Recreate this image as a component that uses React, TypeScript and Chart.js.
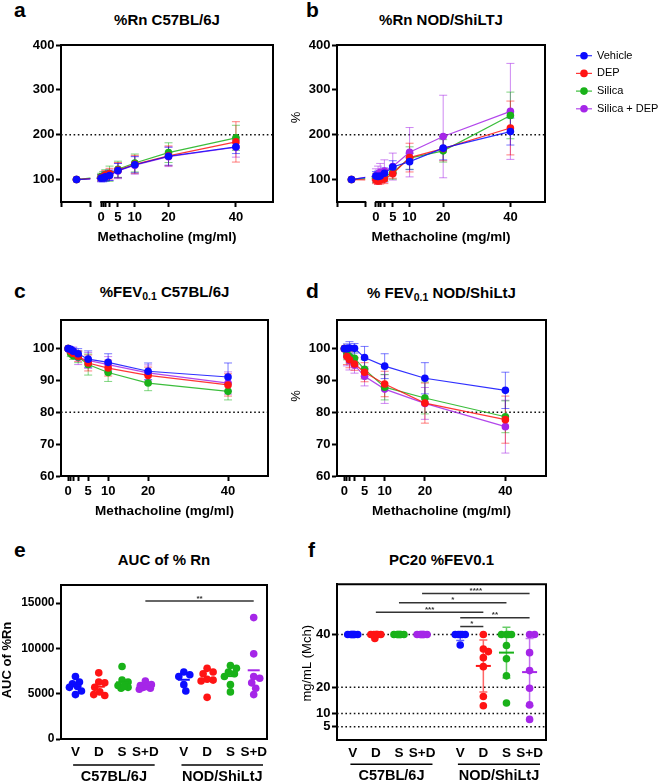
import React, { useEffect, useRef } from 'react';
import { Chart, registerables } from 'chart.js';

Chart.register(...registerables);

const FONT = 'Arial, "Liberation Sans", Helvetica, sans-serif';

// ---------- series ----------
const SERIES = ['Vehicle', 'DEP', 'Silica', 'Silica + DEP'];
const COLORS = ['#0b0bff', '#ff1414', '#19b219', '#a526e8'];

// ---------- methacholine challenge ----------
const DOSES = [0, 0.625, 1.25, 2.5, 5, 10, 20, 40];
const DOSE_LABELS = [0, 5, 10, 20, 40];
const BASELINE_POS = -7.3; // pre-dose baseline sits left of the axis break

// a: %Rn C57BL/6J (baseline, then each dose)
const rnC57Vehicle = [100, 103, 104, 106, 109, 120, 133, 152, 173];
const rnC57DEP = [100, 104, 106, 110, 113, 121, 134, 153, 184];
const rnC57Silica = [100, 106, 108, 110, 113, 123, 137, 160, 193];
const rnC57SilicaDEP = [100, 103, 105, 108, 110, 119, 132, 151, 172];
const rnC57VehicleSD = [0, 8, 9, 10, 11, 16, 18, 20, 15];
const rnC57DEPSD = [0, 7, 8, 10, 12, 17, 20, 22, 45];
const rnC57SilicaSD = [0, 8, 10, 12, 17, 18, 20, 22, 28];
const rnC57SilicaDEPSD = [0, 7, 9, 10, 12, 17, 20, 22, 22];

// b: %Rn NOD/ShiLTJ
const rnNODVehicle = [100, 108, 107, 108, 114, 128, 140, 170, 207];
const rnNODDEP = [100, 99, 97, 99, 101, 113, 149, 169, 215];
const rnNODSilica = [100, 104, 102, 103, 106, 116, 148, 164, 243];
const rnNODSilicaDEP = [100, 109, 110, 116, 119, 129, 161, 196, 252];
const rnNODVehicleSD = [0, 10, 12, 12, 12, 14, 18, 26, 30];
const rnNODDEPSD = [0, 8, 8, 9, 10, 10, 32, 27, 60];
const rnNODSilicaSD = [0, 10, 9, 9, 10, 15, 25, 25, 52];
const rnNODSilicaDEPSD = [0, 15, 20, 20, 25, 30, 55, 92, 107];

// c: %FEV0.1 C57BL/6J
const fevC57Vehicle = [100, 99.8, 99.2, 98.4, 96.7, 95.7, 92.9, 91.1];
const fevC57DEP = [100, 99.2, 98.5, 97.6, 95.5, 93.9, 91.6, 88.6];
const fevC57Silica = [100, 98.5, 97.8, 97.4, 95.0, 92.5, 89.2, 86.6];
const fevC57SilicaDEP = [100, 99.6, 99.0, 97.2, 96.3, 95.0, 92.4, 89.2];
const fevC57VehicleSD = [0, 0.6, 1, 1.6, 2.6, 2.7, 2.6, 4.4];
const fevC57DEPSD = [0, 0.8, 1.2, 1.6, 2.5, 2.5, 2.6, 3.5];
const fevC57SilicaSD = [0, 1, 1.2, 1.8, 3.3, 2.8, 2.4, 2.7];
const fevC57SilicaDEPSD = [0, 0.8, 1.5, 2.2, 2.5, 2.5, 2.5, 3.5];

// d: %FEV0.1 NOD/ShiLtJ
const fevNODVehicle = [100, 100, 100.2, 100.1, 97.2, 94.5, 90.7, 86.9];
const fevNODDEP = [100, 97.5, 96.5, 95.2, 92.6, 88.9, 82.9, 77.7];
const fevNODSilica = [100, 98.5, 97.5, 97.0, 93.5, 87.9, 84.5, 78.6];
const fevNODSilicaDEP = [100, 97.6, 96.3, 94.8, 91.3, 87.3, 82.8, 75.5];
const fevNODVehicleSD = [0, 1.5, 2, 1.5, 3.5, 3.9, 4.9, 5.7];
const fevNODDEPSD = [0, 2.5, 2.5, 2, 3, 4, 6.3, 7.4];
const fevNODSilicaSD = [0, 2, 2, 2, 3, 4, 5, 5];
const fevNODSilicaDEPSD = [0, 3, 3, 2.5, 3, 4.5, 5, 8.3];

// ---------- group scatter panels ----------
const TREATMENT_LABELS = ['V', 'D', 'S', 'S+D'];
const STRAINS = ['C57BL/6J', 'NOD/ShiLtJ'];
const GROUP_GAP = 4.65; // second strain block starts here on the category axis

// e: AUC of %Rn
const aucC57Vehicle = [6900, 6300, 6100, 5800, 5300, 4900, 5700];
const aucC57DEP = [7300, 6300, 6200, 5700, 4900, 4800, 5200];
const aucC57Silica = [8000, 6500, 6300, 5900, 5700, 5600, 5800];
const aucC57SilicaDEP = [6400, 6000, 5900, 5700, 5600, 5500, 5800];
const aucNODVehicle = [7400, 7100, 6900, 6000, 5300];
const aucNODDEP = [7800, 7400, 7200, 6600, 6500, 6400, 4600];
const aucNODSilica = [8100, 7800, 7400, 7200, 6900, 6000, 5200];
const aucNODSilicaDEP = [13400, 9400, 6900, 6700, 6200, 5600, 4900];
const aucTicks = [0, 5000, 10000, 15000];
const aucSigFrom = [3];
const aucSigTo = [7];
const aucSigY = [15230];
const aucSigText = ['**'];

// f: PC20 %FEV0.1
const pc20C57Vehicle = [40, 40, 40, 40, 40, 40, 40];
const pc20C57DEP = [40, 40, 40, 40, 40, 40, 38.5];
const pc20C57Silica = [40, 40, 40, 40, 40, 40, 40];
const pc20C57SilicaDEP = [40, 40, 40, 40, 40, 40, 40];
const pc20NODVehicle = [40, 40, 40, 40, 40, 36];
const pc20NODDEP = [40, 34.5, 33.5, 31.2, 27.8, 16.5, 13];
const pc20NODSilica = [40, 40, 40, 40, 35.8, 30.8, 24.3, 14];
const pc20NODSilicaDEP = [40, 40, 33.1, 26.3, 19.6, 13.3, 7.8];
const pc20SigFrom = [3, 2, 1, 4, 4];
const pc20SigTo = [7, 6, 5, 7, 5];
const pc20SigY = [55.5, 52, 48.4, 46.3, 43];
const pc20SigText = ['****', '*', '***', '**', '*'];
const pc20Ticks = [5, 10, 20, 40];

// ---------- helpers ----------
function rgba(hex: string, a: number) {
  const n = parseInt(hex.slice(1), 16);
  return `rgba(${(n >> 16) & 255},${(n >> 8) & 255},${n & 255},${a})`;
}
const catPos = (strain: number, t: number) => strain * GROUP_GAP + t;

type Frame = { rect: { x: number; y: number; w: number; h: number }; yW: number; padTop: number; padRight: number; xH: number };

const FRAME_A: Frame = { rect: { x: 0, y: 30, w: 290, h: 215 }, yW: 61, padTop: 15, padRight: 17, xH: 43 };
const FRAME_B: Frame = { rect: { x: 290, y: 30, w: 371, h: 215 }, yW: 47, padTop: 15, padRight: 116, xH: 43 };
const FRAME_C: Frame = { rect: { x: 0, y: 305, w: 290, h: 215 }, yW: 61, padTop: 15, padRight: 22, xH: 44 };
const FRAME_D: Frame = { rect: { x: 290, y: 305, w: 371, h: 215 }, yW: 47, padTop: 15, padRight: 115, xH: 44 };
const FRAME_E: Frame = { rect: { x: 0, y: 575, w: 290, h: 208 }, yW: 61, padTop: 10, padRight: 23, xH: 44 };
const FRAME_F: Frame = { rect: { x: 290, y: 575, w: 371, h: 208 }, yW: 47, padTop: 9, padRight: 115, xH: 43 };

type Decor = {
  refLines?: number[];
  broken?: { from: number; to: number; clipFrom: number; clipTo: number };
  xTitle?: { text: string; dy: number };
  yTitle?: { text: string; dx: number; dy: number; bold: boolean };
  legend?: boolean;
  errorBars?: boolean;
  stats?: { meanHalf: number; sd: boolean };
  sig?: { from: number[]; to: number[]; y: number[]; text: string[] };
  groups?: { underlineDy: number; labelDy: number; from: number; to: number };
};

function meanSd(v: number[]) {
  const m = v.reduce((s, x) => s + x, 0) / v.length;
  const sd = v.length > 1 ? Math.sqrt(v.reduce((s, x) => s + (x - m) ** 2, 0) / (v.length - 1)) : 0;
  return { m, sd };
}

function makeDecor(cfg: Decor) {
  return {
    id: 'decor',
    beforeDatasetsDraw(chart: any) {
      const { ctx, chartArea: a, scales } = chart;
      const ys = scales.y;
      ctx.save();
      (cfg.refLines || []).forEach((v) => {
        const y = ys.getPixelForValue(v);
        ctx.beginPath();
        ctx.setLineDash([1.6, 2.6]);
        ctx.lineWidth = 1.5;
        ctx.strokeStyle = '#111';
        ctx.moveTo(a.left, y);
        ctx.lineTo(a.right, y);
        ctx.stroke();
      });
      ctx.setLineDash([]);
      if (cfg.errorBars) {
        for (let i = chart.data.datasets.length - 1; i >= 0; i--) {
          const ds = chart.data.datasets[i];
          const meta = chart.getDatasetMeta(i);
          ctx.strokeStyle = rgba(ds.color, 0.55);
          ctx.lineWidth = 1;
          ds.data.forEach((p: any, j: number) => {
            const sd = ds.sd[j];
            if (!sd) return;
            const x = meta.data[j].x;
            const y1 = ys.getPixelForValue(p.y + sd);
            const y2 = ys.getPixelForValue(p.y - sd);
            ctx.beginPath();
            ctx.moveTo(x, y1); ctx.lineTo(x, y2);
            ctx.moveTo(x - 4, y1); ctx.lineTo(x + 4, y1);
            ctx.moveTo(x - 4, y2); ctx.lineTo(x + 4, y2);
            ctx.stroke();
          });
        }
      }
      if (cfg.stats && cfg.stats.sd) {
        const xs = scales.x;
        chart.data.datasets.forEach((ds: any) => {
          const { m, sd } = meanSd(ds.values);
          if (sd < 0.5) return;
          const x = xs.getPixelForValue(ds.baseX);
          const y1 = ys.getPixelForValue(m + sd);
          const y2 = ys.getPixelForValue(m - sd);
          ctx.strokeStyle = rgba(ds.color, 0.65);
          ctx.lineWidth = 1.5;
          ctx.beginPath();
          ctx.moveTo(x, y1); ctx.lineTo(x, y2);
          ctx.moveTo(x - 4, y1); ctx.lineTo(x + 4, y1);
          ctx.moveTo(x - 4, y2); ctx.lineTo(x + 4, y2);
          ctx.stroke();
        });
      }
      ctx.restore();
    },
    beforeDatasetDraw(chart: any) {
      if (!cfg.broken) return;
      const { ctx, scales } = chart;
      const g0 = scales.x.getPixelForValue(cfg.broken.clipFrom);
      const g1 = scales.x.getPixelForValue(cfg.broken.clipTo);
      ctx.save();
      ctx.beginPath();
      ctx.rect(0, 0, g0, chart.height);
      ctx.rect(g1, 0, chart.width - g1, chart.height);
      ctx.clip();
    },
    afterDatasetDraw(chart: any) {
      if (cfg.broken) chart.ctx.restore();
    },
    afterDatasetsDraw(chart: any) {
      if (!cfg.stats) return;
      const { ctx, scales } = chart;
      ctx.save();
      chart.data.datasets.forEach((ds: any) => {
        const { m } = meanSd(ds.values);
        const x = scales.x.getPixelForValue(ds.baseX);
        const y = scales.y.getPixelForValue(m);
        ctx.strokeStyle = ds.color;
        ctx.lineWidth = 2;
        ctx.beginPath();
        ctx.moveTo(x - cfg.stats!.meanHalf, y);
        ctx.lineTo(x + cfg.stats!.meanHalf, y);
        ctx.stroke();
      });
      ctx.restore();
    },
    afterDraw(chart: any) {
      const { ctx, chartArea: a, scales } = chart;
      const xs = scales.x, ys = scales.y;
      ctx.save();
      ctx.strokeStyle = '#000';
      ctx.lineWidth = 2;
      ctx.lineCap = 'butt';
      // box frame (top & right)
      ctx.beginPath();
      ctx.moveTo(a.left - 1, a.top);
      ctx.lineTo(a.right, a.top);
      ctx.moveTo(a.right, a.top - 1);
      ctx.lineTo(a.right, a.bottom + 1);
      ctx.stroke();
      if (cfg.broken) {
        const p0 = xs.getPixelForValue(cfg.broken.from);
        const p1 = xs.getPixelForValue(cfg.broken.to);
        ctx.beginPath();
        ctx.moveTo(a.left - 1, a.bottom);
        ctx.lineTo(p0 + 1, a.bottom);
        ctx.moveTo(p1, a.bottom);
        ctx.lineTo(a.right + 1, a.bottom);
        ctx.stroke();
      }
      ctx.fillStyle = '#000';
      ctx.textBaseline = 'middle';
      ctx.textAlign = 'center';
      if (cfg.xTitle) {
        ctx.font = `bold 13.5px ${FONT}`;
        ctx.fillText(cfg.xTitle.text, (a.left + a.right) / 2, a.bottom + cfg.xTitle.dy);
      }
      if (cfg.yTitle) {
        ctx.save();
        ctx.translate(a.left + cfg.yTitle.dx, a.top + cfg.yTitle.dy);
        ctx.rotate(-Math.PI / 2);
        ctx.font = `${cfg.yTitle.bold ? 'bold ' : ''}13px ${FONT}`;
        ctx.fillText(cfg.yTitle.text, 0, 0);
        ctx.restore();
      }
      if (cfg.legend) {
        SERIES.forEach((s, i) => {
          const y = a.top + 10.7 + i * 17.7;
          const x0 = a.right + 31;
          ctx.strokeStyle = rgba(COLORS[i], 0.85);
          ctx.lineWidth = 1.2;
          ctx.beginPath();
          ctx.moveTo(x0, y);
          ctx.lineTo(x0 + 16, y);
          ctx.stroke();
          ctx.fillStyle = COLORS[i];
          ctx.beginPath();
          ctx.arc(x0 + 8, y, 3.8, 0, Math.PI * 2);
          ctx.fill();
          ctx.fillStyle = '#000';
          ctx.font = `11px ${FONT}`;
          ctx.textAlign = 'left';
          ctx.fillText(s, x0 + 21, y);
        });
        ctx.textAlign = 'center';
      }
      if (cfg.sig) {
        const sg = cfg.sig;
        sg.from.forEach((f, i) => {
          const strainF = f >= 4 ? 1 : 0, strainT = sg.to[i] >= 4 ? 1 : 0;
          const x1 = xs.getPixelForValue(catPos(strainF, f % 4));
          const x2 = xs.getPixelForValue(catPos(strainT, sg.to[i] % 4));
          const y = ys.getPixelForValue(sg.y[i]);
          ctx.strokeStyle = '#333';
          ctx.lineWidth = 1.5;
          ctx.beginPath();
          ctx.moveTo(x1, y);
          ctx.lineTo(x2, y);
          ctx.stroke();
          ctx.fillStyle = '#333';
          ctx.font = `bold 8px ${FONT}`;
          ctx.textBaseline = 'alphabetic';
          ctx.fillText(sg.text[i], (x1 + x2) / 2, y - 0.5);
        });
        ctx.textBaseline = 'middle';
      }
      if (cfg.groups) {
        const g = cfg.groups;
        STRAINS.forEach((s, si) => {
          const x1 = xs.getPixelForValue(catPos(si, 0) + g.from);
          const x2 = xs.getPixelForValue(catPos(si, 3) + g.to);
          ctx.strokeStyle = '#000';
          ctx.lineWidth = 1.5;
          ctx.beginPath();
          ctx.moveTo(x1, a.bottom + g.underlineDy);
          ctx.lineTo(x2, a.bottom + g.underlineDy);
          ctx.stroke();
          ctx.fillStyle = '#000';
          ctx.font = `bold 14.5px ${FONT}`;
          ctx.fillText(s, (x1 + x2) / 2, a.bottom + g.labelDy);
        });
      }
      ctx.restore();
    },
  };
}

function tickGrid() {
  return { display: true, drawOnChartArea: false, drawTicks: true, tickLength: 5, tickWidth: 2, tickColor: '#000' };
}

function yScale(fr: Frame, min: number, max: number, ticks: number[], size = 13) {
  return {
    type: 'linear',
    min,
    max,
    afterBuildTicks: (s: any) => { s.ticks = ticks.map((v) => ({ value: v })); },
    afterFit: (s: any) => { s.width = fr.yW; },
    ticks: {
      font: { family: FONT, size, weight: 'bold' },
      color: '#000',
      padding: 1.5,
      autoSkip: false,
      callback: (v: number) => String(v),
    },
    grid: tickGrid(),
    border: { display: true, color: '#000', width: 2 },
  };
}

function baseOptions(fr: Frame, x: any, y: any) {
  return {
    responsive: false,
    animation: false,
    events: [],
    layout: { padding: { top: fr.padTop, right: fr.padRight, left: 0, bottom: 0 } },
    plugins: { legend: { display: false }, tooltip: { enabled: false }, title: { display: false } },
    scales: { x, y },
  };
}

function lineChart(
  canvas: HTMLCanvasElement,
  fr: Frame,
  series: number[][],
  sds: number[][],
  withBaseline: boolean,
  xMin: number,
  xMax: number,
  yMin: number,
  yMax: number,
  yTicks: number[],
  decor: Decor,
) {
  const xs = withBaseline ? [BASELINE_POS, ...DOSES] : DOSES;
  const datasets = series.map((vals, i) => ({
    label: SERIES[i],
    data: vals.map((v, j) => ({ x: xs[j], y: v })),
    sd: sds[i],
    color: COLORS[i],
    borderColor: rgba(COLORS[i], 0.85),
    backgroundColor: COLORS[i],
    pointBackgroundColor: COLORS[i],
    pointBorderWidth: 0,
    pointRadius: 3.8,
    pointHoverRadius: 3.8,
    borderWidth: 1.2,
    tension: 0,
    showLine: true,
    fill: false,
  }));
  const xTicks = withBaseline && decor.broken ? [xMin, decor.broken.from, ...DOSES] : DOSES;
  const x = {
    type: 'linear',
    min: xMin,
    max: xMax,
    afterBuildTicks: (s: any) => { s.ticks = xTicks.map((v) => ({ value: v })); },
    afterFit: (s: any) => { s.height = fr.xH; },
    ticks: {
      font: { family: FONT, size: 13, weight: 'bold' },
      color: '#000',
      padding: 3,
      autoSkip: false,
      maxRotation: 0,
      callback: (v: number) => (DOSE_LABELS.includes(v) ? String(v) : ''),
    },
    grid: tickGrid(),
    border: { display: !withBaseline, color: '#000', width: 2 },
  };
  const y = yScale(fr, yMin, yMax, yTicks);
  return new Chart(canvas, {
    type: 'line',
    data: { datasets } as any,
    options: baseOptions(fr, x, y) as any,
    plugins: [makeDecor(decor) as any],
  });
}

function swarm(chart: any, minDist: number, maxW: number) {
  const xs = chart.scales.x, ys = chart.scales.y;
  const pxPerUnit = xs.getPixelForValue(1) - xs.getPixelForValue(0);
  chart.data.datasets.forEach((ds: any) => {
    const vals: number[] = ds.values;
    const order = vals.map((_, i) => i).sort((p, q) => vals[q] - vals[p]);
    const placed: { dx: number; py: number }[] = [];
    const dxs = vals.map(() => 0);
    order.forEach((i) => {
      const py = ys.getPixelForValue(vals[i]);
      let best = 0;
      let bestScore = -1;
      for (let k = 0; k <= 2 * maxW; k++) {
        const dx = (k % 2 === 1 ? 1 : -1) * Math.ceil(k / 2);
        let md = Infinity;
        for (const p of placed) md = Math.min(md, Math.hypot(dx - p.dx, py - p.py));
        if (md >= minDist) { best = dx; break; }
        if (md > bestScore + 1e-6) { bestScore = md; best = dx; }
      }
      placed.push({ dx: best, py });
      dxs[i] = best;
    });
    ds.data = vals.map((v, i) => ({ x: ds.baseX + dxs[i] / pxPerUnit, y: v }));
  });
  chart.update('none');
}

function groupChart(
  canvas: HTMLCanvasElement,
  fr: Frame,
  groups: number[][],
  xMin: number,
  xMax: number,
  yMin: number,
  yMax: number,
  yTicks: number[],
  yTickSize: number,
  decor: Decor,
  swarmDist: number,
  swarmW: number,
) {
  const catTicks: number[] = [];
  const catLabels: string[] = [];
  STRAINS.forEach((_, s) => TREATMENT_LABELS.forEach((l, t) => { catTicks.push(catPos(s, t)); catLabels.push(l); }));
  const datasets = groups.map((vals, g) => {
    const s = Math.floor(g / 4), t = g % 4;
    const baseX = catPos(s, t);
    return {
      label: `${STRAINS[s]} ${TREATMENT_LABELS[t]}`,
      values: vals,
      baseX,
      color: COLORS[t],
      data: vals.map((v) => ({ x: baseX, y: v })),
      pointBackgroundColor: COLORS[t],
      backgroundColor: COLORS[t],
      pointBorderWidth: 0,
      pointRadius: 3.8,
      pointHoverRadius: 3.8,
      showLine: false,
    };
  });
  const x = {
    type: 'linear',
    min: xMin,
    max: xMax,
    afterBuildTicks: (s: any) => { s.ticks = catTicks.map((v) => ({ value: v })); },
    afterFit: (s: any) => { s.height = fr.xH; },
    ticks: {
      font: { family: FONT, size: 13.5, weight: 'bold' },
      color: '#000',
      padding: 5,
      autoSkip: false,
      maxRotation: 0,
      callback: (_v: number, i: number) => catLabels[i],
    },
    grid: { display: false, drawTicks: false },
    border: { display: true, color: '#000', width: 2 },
  };
  const y = yScale(fr, yMin, yMax, yTicks, yTickSize);
  const chart = new Chart(canvas, {
    type: 'scatter',
    data: { datasets } as any,
    options: baseOptions(fr, x, y) as any,
    plugins: [makeDecor(decor) as any],
  });
  swarm(chart, swarmDist, swarmW);
  return chart;
}

// ---------- chart builders ----------
const BUILDERS: { frame: Frame; build: (c: HTMLCanvasElement) => Chart }[] = [
  {
    frame: FRAME_A,
    build: (c) =>
      lineChart(
        c, FRAME_A,
        [rnC57Vehicle, rnC57DEP, rnC57Silica, rnC57SilicaDEP],
        [rnC57VehicleSD, rnC57DEPSD, rnC57SilicaSD, rnC57SilicaDEPSD],
        true, -11.9, 51, 50, 400, [100, 200, 300, 400],
        {
          refLines: [200],
          broken: { from: -3.2, to: -0.25, clipFrom: -3.2, clipTo: -1.3 },
          xTitle: { text: 'Methacholine (mg/ml)', dy: 35.5 },
          errorBars: true,
        },
      ),
  },
  {
    frame: FRAME_B,
    build: (c) =>
      lineChart(
        c, FRAME_B,
        [rnNODVehicle, rnNODDEP, rnNODSilica, rnNODSilicaDEP],
        [rnNODVehicleSD, rnNODDEPSD, rnNODSilicaSD, rnNODSilicaDEPSD],
        true, -11.6, 50.3, 50, 400, [100, 200, 300, 400],
        {
          refLines: [200],
          broken: { from: -3.2, to: -0.25, clipFrom: -3.2, clipTo: -1.3 },
          xTitle: { text: 'Methacholine (mg/ml)', dy: 35.5 },
          yTitle: { text: '%', dx: -40.3, dy: 72.5, bold: false },
          legend: true,
          errorBars: true,
        },
      ),
  },
  {
    frame: FRAME_C,
    build: (c) =>
      lineChart(
        c, FRAME_C,
        [fevC57Vehicle, fevC57DEP, fevC57Silica, fevC57SilicaDEP],
        [fevC57VehicleSD, fevC57DEPSD, fevC57SilicaSD, fevC57SilicaDEPSD],
        false, -1.8, 50, 60, 109, [60, 70, 80, 90, 100],
        {
          refLines: [80],
          xTitle: { text: 'Methacholine (mg/ml)', dy: 35.3 },
          errorBars: true,
        },
      ),
  },
  {
    frame: FRAME_D,
    build: (c) =>
      lineChart(
        c, FRAME_D,
        [fevNODVehicle, fevNODDEP, fevNODSilica, fevNODSilicaDEP],
        [fevNODVehicleSD, fevNODDEPSD, fevNODSilicaSD, fevNODSilicaDEPSD],
        false, -1.85, 50.1, 60, 109, [60, 70, 80, 90, 100],
        {
          refLines: [80],
          xTitle: { text: 'Methacholine (mg/ml)', dy: 35.3 },
          yTitle: { text: '%', dx: -40.3, dy: 76, bold: false },
          errorBars: true,
        },
      ),
  },
  {
    frame: FRAME_E,
    build: (c) =>
      groupChart(
        c, FRAME_E,
        [aucC57Vehicle, aucC57DEP, aucC57Silica, aucC57SilicaDEP, aucNODVehicle, aucNODDEP, aucNODSilica, aucNODSilicaDEP],
        -0.62, 8.22, 0, 17000, aucTicks, 12,
        {
          stats: { meanHalf: 6, sd: false },
          sig: { from: aucSigFrom, to: aucSigTo, y: aucSigY, text: aucSigText },
          groups: { underlineDy: 26, labelDy: 38, from: -0.1, to: 0.4 },
          yTitle: { text: 'AUC of %Rn', dx: -53.5, dy: 75, bold: true },
        },
        6.5, 6,
      ),
  },
  {
    frame: FRAME_F,
    build: (c) =>
      groupChart(
        c, FRAME_F,
        [pc20C57Vehicle, pc20C57DEP, pc20C57Silica, pc20C57SilicaDEP, pc20NODVehicle, pc20NODDEP, pc20NODSilica, pc20NODSilicaDEP],
        -0.68, 8.36, 0, 59, pc20Ticks, 13,
        {
          refLines: pc20Ticks,
          stats: { meanHalf: 7.5, sd: true },
          sig: { from: pc20SigFrom, to: pc20SigTo, y: pc20SigY, text: pc20SigText },
          groups: { underlineDy: 24.3, labelDy: 36, from: -0.1, to: 0.45 },
          yTitle: { text: 'mg/mL (Mch)', dx: -30, dy: 79, bold: false },
        },
        6, 5,
      ),
  },
];

function ChartCanvas({ frame, build }: { frame: Frame; build: (c: HTMLCanvasElement) => Chart }) {
  const ref = useRef<HTMLCanvasElement>(null);
  useEffect(() => {
    if (!ref.current) return;
    const chart = build(ref.current);
    return () => chart.destroy();
  }, []);
  const r = frame.rect;
  return (
    <canvas
      ref={ref}
      width={r.w}
      height={r.h}
      style={{ position: 'absolute', left: r.x, top: r.y, width: r.w, height: r.h }}
    />
  );
}

const titleStyle = (left: number, top: number, width: number): React.CSSProperties => ({
  position: 'absolute',
  left,
  top,
  width,
  textAlign: 'center',
  fontFamily: FONT,
  fontWeight: 'bold',
  fontSize: 15,
  lineHeight: '14px',
  whiteSpace: 'nowrap',
  color: '#000',
});
const letterStyle = (left: number, top: number): React.CSSProperties => ({
  position: 'absolute',
  left,
  top,
  fontFamily: FONT,
  fontWeight: 'bold',
  fontSize: 21,
  lineHeight: '20px',
  color: '#000',
});
const subStyle: React.CSSProperties = { fontSize: 10.5, position: 'relative', top: 3 };

export default function App() {
  return (
    <div
      style={{
        position: 'absolute',
        left: 0,
        top: 0,
        width: 661,
        height: 783,
        overflow: 'hidden',
        background: '#fff',
      }}
    >
      {BUILDERS.map((b, i) => (
        <ChartCanvas key={i} frame={b.frame} build={b.build} />
      ))}
      <div style={letterStyle(14, -0.5)}>a</div>
      <div style={letterStyle(306, -0.5)}>b</div>
      <div style={letterStyle(14, 281)}>c</div>
      <div style={letterStyle(306, 281)}>d</div>
      <div style={letterStyle(14, 540)}>e</div>
      <div style={letterStyle(308, 540)}>f</div>
      <div style={titleStyle(61, 12.7, 212)}>%Rn C57BL/6J</div>
      <div style={titleStyle(337, 13.2, 208)}>%Rn NOD/ShiLTJ</div>
      <div style={titleStyle(61, 285, 207)}>
        %FEV<span style={subStyle}>0.1</span> C57BL/6J
      </div>
      <div style={titleStyle(337, 286, 209)}>
        % FEV<span style={subStyle}>0.1</span> NOD/ShiLtJ
      </div>
      <div style={titleStyle(61, 552.7, 206)}>AUC of % Rn</div>
      <div style={titleStyle(337, 552.7, 209)}>PC20 %FEV0.1</div>
    </div>
  );
}
